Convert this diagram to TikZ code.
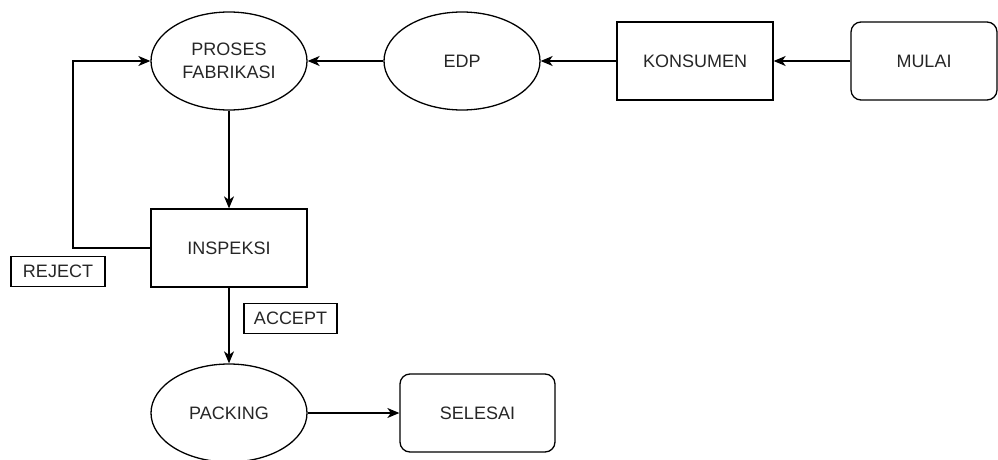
\documentclass[tikz,border=0pt]{standalone}
\usepackage{fontspec}
\setmainfont{Liberation Sans}
\usetikzlibrary{shapes.geometric,arrows.meta}
\begin{document}
\begin{tikzpicture}[x=1pt,y=-1pt,
  every node/.style={font=\fontsize{18}{23}\selectfont, text=black!85, line width=1.3pt, inner sep=0pt},
  ell/.style={draw, ellipse, minimum width=156pt, minimum height=98pt, align=center},
  boxn/.style={draw, rectangle, minimum width=156pt, minimum height=78pt},
  rbox/.style={draw, rectangle, rounded corners=10pt, minimum width=156pt, minimum height=78pt},
  lab/.style={draw, rectangle, minimum width=93pt, minimum height=30pt},
  conn/.style={draw, line width=1.3pt, -{Stealth[length=12pt,width=10pt,inset=3.5pt]}}]
\useasboundingbox (0,0) rectangle (998,460);
\node[ell] (proses) at (229,61) {PROSES\\FABRIKASI};
\node[ell] (edp) at (462,61) {EDP};
\node[boxn] (kons) at (695,61) {KONSUMEN};
\node[rbox, minimum width=146pt] (mulai) at (924,61) {MULAI};
\node[boxn] (insp) at (229,248) {INSPEKSI};
\node[lab, minimum width=94pt] (reject) at (58,271.5) {REJECT};
\node[lab] (accept) at (290.5,318.5) {ACCEPT};
\node[ell] (pack) at (229,413) {PACKING};
\node[rbox, minimum width=155pt] (selesai) at (477.5,413) {SELESAI};
\coordinate (c1) at (73,248);
\coordinate (c2) at (73,61);
\path[conn] (mulai.west) -- (kons.east);
\path[conn] (kons.west) -- (edp.east);
\path[conn] (edp.west) -- (proses.east);
\path[conn] (proses.south) -- (insp.north);
\path[conn] (insp.west) -- (c1) -- (c2) -- (proses.west);
\path[conn] (insp.south) -- (pack.north);
\path[conn] (pack.east) -- (selesai.west);
\end{tikzpicture}
\end{document}
